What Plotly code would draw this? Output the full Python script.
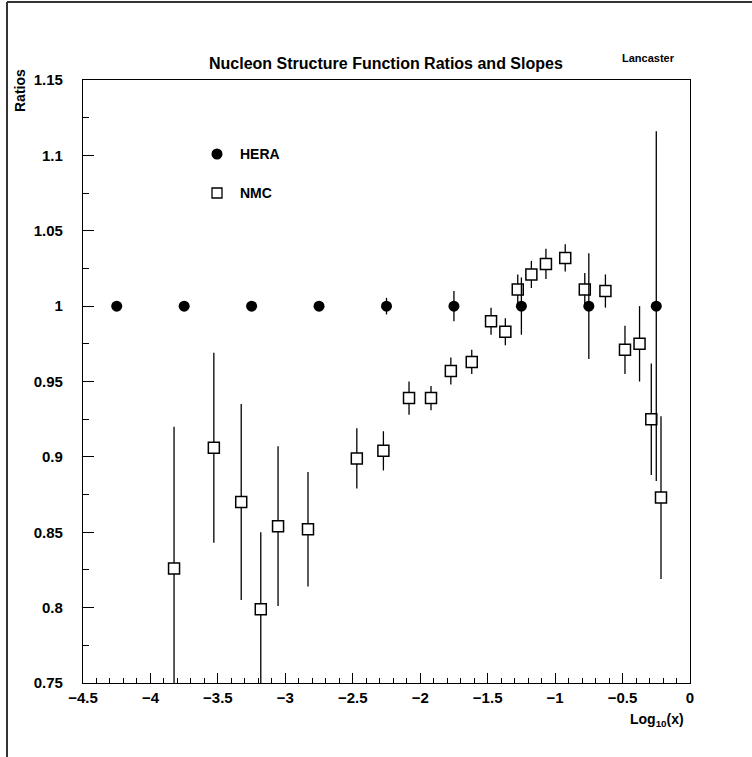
import plotly.graph_objects as go

# HERA data
hera_x = [-4.25, -3.75, -3.25, -2.75, -2.25, -1.75, -1.25, -0.75, -0.25]
hera_y = [1.0, 1.0, 1.0, 1.0, 1.0, 1.0, 1.0, 1.0, 1.0]
hera_err = [0.0, 0.0, 0.0, 0.0, 0.0055, 0.01, 0.019, 0.035, 0.116]

# NMC data
nmc_x = [-3.825, -3.53, -3.327, -3.182, -3.054, -2.832, -2.47, -2.273, -2.083, -1.92,
         -1.773, -1.618, -1.475, -1.369, -1.277, -1.176, -1.068, -0.925, -0.78, -0.627,
         -0.482, -0.374, -0.287, -0.215]
nmc_y = [0.826, 0.906, 0.870, 0.799, 0.854, 0.852, 0.899, 0.904, 0.939, 0.939,
         0.957, 0.963, 0.990, 0.983, 1.011, 1.021, 1.028, 1.032, 1.011, 1.010,
         0.971, 0.975, 0.925, 0.873]
nmc_err = [0.094, 0.063, 0.065, 0.051, 0.053, 0.038, 0.020, 0.013, 0.011, 0.008,
           0.009, 0.008, 0.009, 0.009, 0.010, 0.009, 0.010, 0.009, 0.011, 0.011,
           0.016, 0.025, 0.037, 0.054]

x_ticks = [-4.5, -4, -3.5, -3, -2.5, -2, -1.5, -1, -0.5, 0]
x_tick_text = ["\u22124.5", "\u22124", "\u22123.5", "\u22123", "\u22122.5", "\u22122",
               "\u22121.5", "\u22121", "\u22120.5", "0"]
y_ticks = [0.75, 0.8, 0.85, 0.9, 0.95, 1, 1.05, 1.1, 1.15]
y_tick_text = ["0.75", "0.8", "0.85", "0.9", "0.95", "1", "1.05", "1.1", "1.15"]

FONT = "Liberation Sans, Arial, sans-serif"

fig = go.Figure()
fig.add_trace(go.Scatter(
    x=nmc_x, y=nmc_y, mode="markers", name="NMC",
    marker=dict(symbol="square", size=11, color="white", line=dict(color="black", width=1.5)),
    error_y=dict(type="data", array=nmc_err, color="black", thickness=1.3, width=0),
    showlegend=False, cliponaxis=True,
))
fig.add_trace(go.Scatter(
    x=hera_x, y=hera_y, mode="markers", name="HERA",
    marker=dict(symbol="circle", size=11, color="black"),
    error_y=dict(type="data", array=hera_err, color="black", thickness=1.3, width=0),
    showlegend=False, cliponaxis=True,
))

axis_common = dict(
    showline=True, linecolor="black", linewidth=1.3, mirror=True,
    ticks="inside", tickcolor="black", tickwidth=1, showgrid=False, zeroline=False,
    tickfont=dict(family=FONT, size=15, color="black", weight="bold"),
)
fig.update_xaxes(range=[-4.5, 0], tickmode="array", tickvals=x_ticks, ticktext=x_tick_text,
                 ticklen=10, minor=dict(dtick=0.1, ticks="inside", ticklen=5, tickcolor="black"),
                 ticklabelstandoff=1, **axis_common)
fig.update_yaxes(range=[0.75, 1.15], tickmode="array", tickvals=y_ticks, ticktext=y_tick_text,
                 ticklen=11, minor=dict(dtick=0.025, ticks="inside", ticklen=6, tickcolor="black"),
                 ticklabelstandoff=16, **axis_common)

def px2paper_x(px):
    return (px - 83) / 607.0

def px2paper_y(py):
    return (683 - py) / 603.0

annotations = [
    dict(text="<b>Nucleon Structure Function Ratios and Slopes</b>", x=px2paper_x(386), y=px2paper_y(64),
         xref="paper", yref="paper", showarrow=False, xanchor="center", yanchor="middle",
         font=dict(family=FONT, size=16, color="black")),
    dict(text="<b>Lancaster</b>", x=px2paper_x(648), y=px2paper_y(58),
         xref="paper", yref="paper", showarrow=False, xanchor="center", yanchor="middle",
         font=dict(family=FONT, size=11, color="black")),
    dict(text="<b>Ratios</b>", x=px2paper_x(20), y=px2paper_y(91), textangle=-90,
         xref="paper", yref="paper", showarrow=False, xanchor="center", yanchor="middle",
         font=dict(family=FONT, size=14, color="black")),
    dict(text="<b>Log<sub>10</sub>(x)</b>", x=px2paper_x(686), y=px2paper_y(720),
         xref="paper", yref="paper", showarrow=False, xanchor="right", yanchor="middle",
         font=dict(family=FONT, size=14, color="black")),
    dict(text="<b>HERA</b>", x=px2paper_x(238), y=px2paper_y(154),
         xref="paper", yref="paper", showarrow=False, xanchor="left", yanchor="middle",
         font=dict(family=FONT, size=14, color="black")),
    dict(text="<b>NMC</b>", x=px2paper_x(238), y=px2paper_y(193),
         xref="paper", yref="paper", showarrow=False, xanchor="left", yanchor="middle",
         font=dict(family=FONT, size=14, color="black")),
]

shapes = [
    # legend symbols
    dict(type="circle", xref="paper", yref="paper", xsizemode="pixel", ysizemode="pixel",
         xanchor=px2paper_x(217), yanchor=px2paper_y(154), x0=-5.5, x1=5.5, y0=-5.5, y1=5.5,
         fillcolor="black", line=dict(color="black", width=0)),
    dict(type="rect", xref="paper", yref="paper", xsizemode="pixel", ysizemode="pixel",
         xanchor=px2paper_x(217), yanchor=px2paper_y(193), x0=-5, x1=5, y0=-5, y1=5,
         fillcolor="white", line=dict(color="black", width=1.3)),
    # page border (left and top)
    dict(type="line", xref="paper", yref="paper", x0=px2paper_x(7), x1=px2paper_x(7),
         y0=px2paper_y(2), y1=px2paper_y(760), line=dict(color="#333333", width=2)),
    dict(type="line", xref="paper", yref="paper", x0=px2paper_x(7), x1=px2paper_x(760),
         y0=px2paper_y(2), y1=px2paper_y(2), line=dict(color="#333333", width=2)),
]

fig.update_layout(
    width=752, height=757,
    margin=dict(l=83, r=62, t=80, b=74),
    paper_bgcolor="white", plot_bgcolor="white",
    showlegend=False,
    annotations=annotations, shapes=shapes,
    font=dict(family=FONT, color="black"),
)

fig.write_html("out.html", config={"displayModeBar": False},
               post_script="document.body.style.margin='0px';document.body.style.overflow='hidden';")
